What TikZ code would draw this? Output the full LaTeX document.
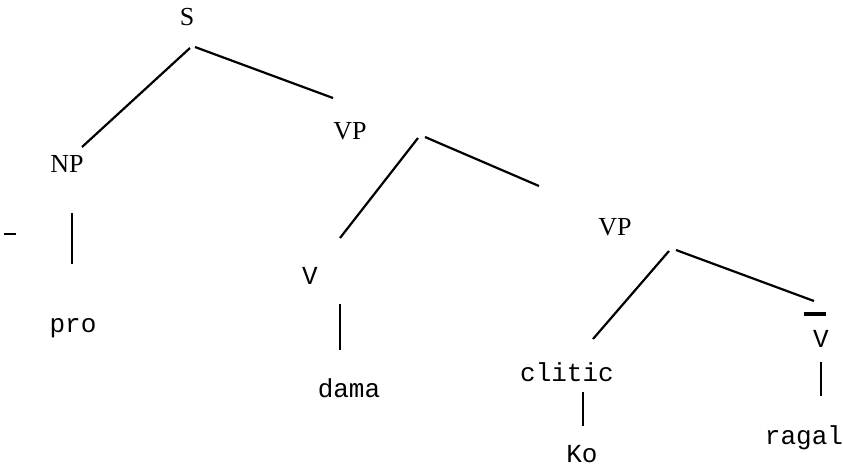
\documentclass[tikz,border=0pt]{standalone}
\usepackage{fontspec}
\setmainfont{Liberation Serif}
\setmonofont{Liberation Mono}

\begin{document}
\begin{tikzpicture}[x=0.5pt,y=-0.5pt,line width=1.1pt,
    cat/.style={anchor=base,inner sep=0pt,font=\fontsize{13}{15}\selectfont},
    word/.style={anchor=base,inner sep=0pt,font=\fontsize{13}{15}\selectfont\ttfamily}]
  \useasboundingbox (0,0) rectangle (843,468);

  % S
  \node[cat] (s) at (187,25) {S};
  \coordinate (s-l) at (190,48);
  \coordinate (s-r) at (195,47);

  % NP - pro
  \node[cat] (np) at (67,172) {NP};
  \coordinate (np-t) at (82,147);
  \coordinate (np-a) at (72,213);
  \coordinate (np-b) at (72,264);
  \node[word] (pro) at (73,332) {pro};
  \coordinate (mark-a) at (4,234);
  \coordinate (mark-b) at (16,234);

  % VP - V - dama
  \node[cat] (vp) at (350,139) {VP};
  \coordinate (vp-t) at (333,98);
  \coordinate (vp-l) at (418,138);
  \coordinate (vp-r) at (425,137);
  \node[word] (v) at (310,284) {V};
  \coordinate (v-t) at (340,238);
  \coordinate (v-a) at (340,304);
  \coordinate (v-b) at (340,350);
  \node[word] (dama) at (349,397) {dama};

  % lower VP - clitic, V
  \node[cat] (vpb) at (615,235) {VP};
  \coordinate (vpb-t) at (539,186);
  \coordinate (vpb-l) at (669,251);
  \coordinate (vpb-r) at (676,250);
  \node[word] (clitic) at (567,381) {clitic};
  \coordinate (clitic-t) at (593,339);
  \coordinate (clitic-a) at (583,392);
  \coordinate (clitic-b) at (583,426);
  \node[word] (ko) at (582,462) {Ko};
  \node[word] (vb) at (821,347) {V};
  \coordinate (vb-t) at (814,301);
  \coordinate (bar-a) at (804,314);
  \coordinate (bar-b) at (826,314);
  \coordinate (vb-a) at (821,362);
  \coordinate (vb-b) at (821,396);
  \node[word] (ragal) at (804,444) {ragal};

  % branches
  \draw (s-l) -- (np-t);
  \draw (s-r) -- (vp-t);
  \draw (np-a) -- (np-b);
  \draw (vp-l) -- (v-t);
  \draw (vp-r) -- (vpb-t);
  \draw (v-a) -- (v-b);
  \draw (vpb-l) -- (clitic-t);
  \draw (vpb-r) -- (vb-t);
  \draw (clitic-a) -- (clitic-b);
  \draw (vb-a) -- (vb-b);
  \draw[line width=2pt] (bar-a) -- (bar-b);
  \draw[line width=1.4pt] (mark-a) -- (mark-b);
\end{tikzpicture}
\end{document}
